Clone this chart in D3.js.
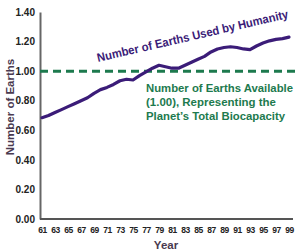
<!DOCTYPE html>
<html>
<head>
<meta charset="utf-8">
<script src="https://cdn.jsdelivr.net/npm/d3@7"></script>
<style>
  body { margin: 0; background: #fff; }
  svg { display: block; font-family: "Liberation Sans", Arial, sans-serif; }
</style>
</head>
<body>
<svg width="300" height="252"></svg>
<script>
var years = d3.range(1961, 2000);
var earthsUsed = [0.685, 0.70, 0.72, 0.74, 0.76, 0.78, 0.80, 0.82, 0.85, 0.875,
  0.89, 0.91, 0.935, 0.945, 0.94, 0.97, 0.995, 1.02, 1.04, 1.03,
  1.02, 1.02, 1.04, 1.06, 1.08, 1.10, 1.13, 1.15, 1.16, 1.165,
  1.16, 1.15, 1.145, 1.17, 1.19, 1.205, 1.215, 1.22, 1.23];
var earthsAvailable = 1.0;
var yTicks = [0, 0.2, 0.4, 0.6, 0.8, 1.0, 1.2, 1.4];
var xTicks = d3.range(1961, 2000, 2);

var svg = d3.select("svg");
var purple = "#3b1c78";
var green = "#1d7a4e";

var x = d3.scaleLinear().domain([1961, 1999]).range([42, 289]);
var y = d3.scaleLinear().domain([0, 1.4]).range([219, 12]);

// axes
var yAxis = svg.append("g")
  .attr("transform", "translate(40,0)")
  .call(d3.axisLeft(y).tickValues(yTicks).tickFormat(d3.format(".2f")).tickSize(0).tickPadding(5));
yAxis.select(".domain").attr("stroke", "#666").attr("stroke-width", 2);
yAxis.selectAll("text")
  .attr("font-size", 10).attr("font-weight", "bold").attr("fill", "#222")
  .attr("font-family", "Liberation Sans, Arial, sans-serif");

var xAxis = svg.append("g")
  .attr("transform", "translate(0,219)")
  .call(d3.axisBottom(x).tickValues(xTicks).tickFormat(function(d) { return String(d).slice(2); }).tickSize(0).tickPadding(8));
xAxis.select(".domain").attr("d", "M40,0H293").attr("stroke", "#555").attr("stroke-width", 2);
xAxis.selectAll("text")
  .attr("font-size", 8.5).attr("font-weight", "bold").attr("fill", "#222")
  .attr("letter-spacing", -0.5)
  .attr("font-family", "Liberation Sans, Arial, sans-serif");

svg.append("text")
  .attr("x", 166).attr("y", 249)
  .attr("text-anchor", "middle")
  .attr("font-size", 11.5).attr("font-weight", "bold").attr("fill", "#4a3a50")
  .text("Year");

svg.append("text")
  .attr("transform", "translate(14,107) rotate(-90)")
  .attr("text-anchor", "middle")
  .attr("font-size", 11.5).attr("font-weight", "bold").attr("fill", "#4a3a50")
  .text("Number of Earths");

// available line
svg.append("line")
  .attr("x1", 40).attr("x2", 295)
  .attr("y1", y(earthsAvailable)).attr("y2", y(earthsAvailable))
  .attr("stroke", green).attr("stroke-width", 3)
  .attr("stroke-dasharray", "8,5");

// used line
var line = d3.line()
  .x(function(d, i) { return x(years[i]); })
  .y(function(d) { return y(d); });

svg.append("path")
  .datum(earthsUsed)
  .attr("d", line)
  .attr("fill", "none")
  .attr("stroke", purple)
  .attr("stroke-width", 3.2)
  .attr("stroke-linejoin", "round")
  .attr("stroke-linecap", "round");

// labels
svg.append("text")
  .attr("transform", "translate(98,62) rotate(-13)")
  .attr("font-size", 12).attr("font-weight", "bold").attr("fill", purple)
  .attr("textLength", 196).attr("lengthAdjust", "spacingAndGlyphs")
  .text("Number of Earths Used by Humanity");

var availLines = ["Number of Earths Available", "(1.00), Representing the", "Planet\u2019s Total Biocapacity"];
var availWidths = [147, 130, 139];
svg.append("g").selectAll("text")
  .data(availLines)
  .enter().append("text")
  .attr("x", 146)
  .attr("y", function(d, i) { return 92 + i * 14; })
  .attr("font-size", 11.5).attr("font-weight", "bold").attr("fill", green)
  .attr("textLength", function(d, i) { return availWidths[i]; })
  .attr("lengthAdjust", "spacingAndGlyphs")
  .text(function(d) { return d; });
</script>
</body>
</html>
